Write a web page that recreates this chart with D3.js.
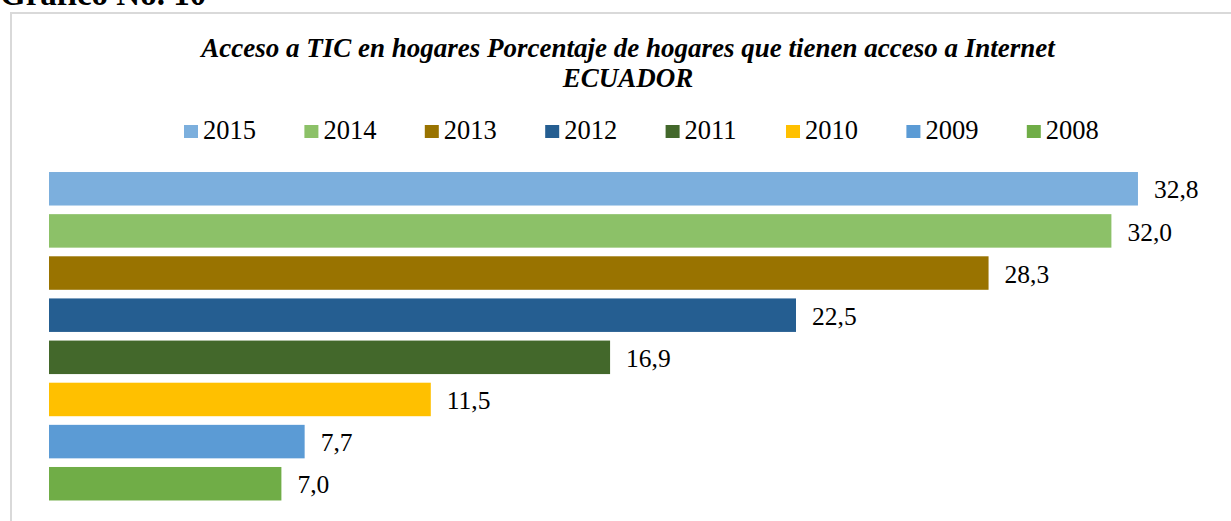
<!DOCTYPE html>
<html>
<head>
<meta charset="utf-8">
<script src="https://cdn.jsdelivr.net/npm/d3@7"></script>
<style>
  body { margin: 0; background: #fff; }
  svg { display: block; font-family: "Liberation Serif", "Times New Roman", serif; }
</style>
</head>
<body>
<div class="contenedor_grafico"></div>
<script>
const years = ["2015", "2014", "2013", "2012", "2011", "2010", "2009", "2008"];
const values = [32.8, 32.0, 28.3, 22.5, 16.9, 11.5, 7.7, 7.0];
const titleLines = [
  "Acceso a TIC en hogares Porcentaje de hogares que tienen acceso a Internet",
  "ECUADOR"
];

const colors = ["#7cafdd", "#8cc168", "#997300", "#255e91", "#43682b", "#ffc000", "#5b9bd5", "#70ad47"];

const width = 1231;
const height = 521;

const svg = d3.select(".contenedor_grafico")
  .append("svg")
  .attr("width", width)
  .attr("height", height);

// outer heading, cut off by the top edge
svg.append("text")
  .attr("x", 0)
  .attr("y", 5)
  .attr("font-size", 33)
  .attr("font-weight", "bold")
  .text("Gráfico No. 10");

// chart frame
svg.append("rect")
  .attr("x", 11)
  .attr("y", 13)
  .attr("width", 1240)
  .attr("height", 540)
  .attr("fill", "none")
  .attr("stroke", "#d9d9d9")
  .attr("stroke-width", 2);

svg.selectAll(".title")
  .data(titleLines)
  .enter()
  .append("text")
  .attr("class", "title")
  .attr("x", 628)
  .attr("y", (d, i) => 57 + i * 30)
  .attr("text-anchor", "middle")
  .attr("font-size", 27)
  .attr("font-weight", "bold")
  .attr("font-style", "italic")
  .text(d => d);

// legend
const legend = svg.selectAll(".legend")
  .data(years)
  .enter()
  .append("g")
  .attr("class", "legend")
  .attr("transform", (d, i) => `translate(${184 + i * 120.4}, 125)`);

legend.append("rect")
  .attr("width", 14)
  .attr("height", 13)
  .attr("fill", (d, i) => colors[i]);

legend.append("text")
  .attr("x", 19)
  .attr("y", 14)
  .attr("font-size", 26.5)
  .text(d => d);

const xScale = d3.scaleLinear()
  .domain([0, 35])
  .range([49, 1211]);

const yScale = d3.scaleBand()
  .domain(years)
  .range([167.7, 504.8])
  .paddingInner(0.205)
  .paddingOuter(0.1025);

svg.selectAll(".bar")
  .data(values)
  .enter()
  .append("rect")
  .attr("class", "bar")
  .attr("x", xScale(0))
  .attr("y", (d, i) => yScale(years[i]))
  .attr("width", d => xScale(d) - xScale(0))
  .attr("height", yScale.bandwidth())
  .attr("fill", (d, i) => colors[i]);

svg.selectAll(".label")
  .data(values)
  .enter()
  .append("text")
  .attr("class", "label")
  .attr("x", d => xScale(d) + 16)
  .attr("y", (d, i) => yScale(years[i]) + yScale.bandwidth() / 2)
  .attr("dy", "0.38em")
  .attr("font-size", 25.5)
  .text(d => d.toFixed(1).replace(".", ","));
</script>
</body>
</html>
